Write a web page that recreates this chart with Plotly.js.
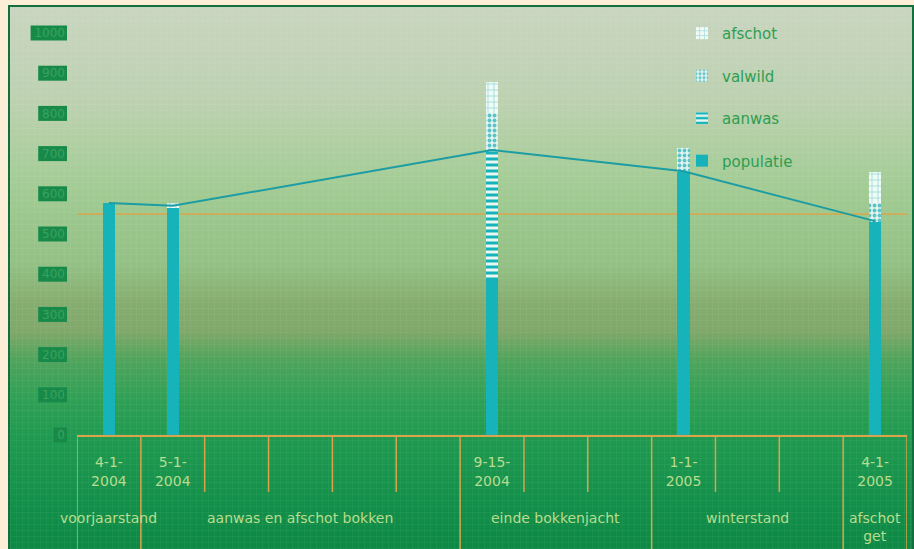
<!DOCTYPE html>
<html>
<head>
<meta charset="utf-8">
<script src="https://cdn.plot.ly/plotly-3.0.1.min.js"></script>
<style>
  html, body { margin: 0; padding: 0; background: #fdeed8; overflow: hidden; }
  #panel {
    position: absolute; left: 8px; top: 5px; width: 902px; height: 560px;
    border: 2px solid #11703e;
    background:
      repeating-linear-gradient(90deg, rgba(255,255,255,0.045) 0 1px, rgba(0,0,0,0) 1px 6px),
      repeating-linear-gradient(0deg, rgba(255,255,255,0.045) 0 1px, rgba(0,0,0,0) 1px 6px),
      linear-gradient(to bottom,
        #c9d5c0 0%, #bdd1b0 17%, #a6cd98 30%, #9cc88e 37%, #93c084 46%,
        #86ad70 53%, #7fa86a 58%, #50a45c 63%, #2fa055 70%, #1f9a50 77%,
        #13904a 88%, #0a8642 100%);
  }
  #chart { position: absolute; left: 0; top: 0; width: 914px; height: 549px; }
</style>
</head>
<body>
<div id="panel"></div>
<div id="chart"></div>
<script>
// Count dates and the month slot each one occupies on the time axis
const dates = ["4-1-2004", "5-1-2004", "9-15-2004", "1-1-2005", "4-1-2005"];
const dateSlot = [0, 1, 6, 9, 12];
const slotCount = 13;

// Period that starts at each count date
const periods = ["voorjaarstand", "aanwas en afschot bokken", "einde bokkenjacht", "winterstand", "afschot<br>get"];

// Stacked components
const populatie = [577, 565, 390, 654, 530];
const aanwas    = [0, 0, 319, 0, 0];
const valwild   = [0, 0, 92, 60, 47];
const afschot   = [0, 12, 78, 0, 77];

// Population level through the year
const stand = [577, 570, 709, 656, 532];

// Reference level
const target = 550;

// Value axis ticks
const yTicks = [0, 100, 200, 300, 400, 500, 600, 700, 800, 900, 1000];
const yRange = [0, 1000];

const FONT = "DejaVu Sans";
const TEAL = "#17b3bb";
const ORANGE = "#dba44a";
const LABEL = "#b8dd8e";

const plotW = 914 - 77 - 7;
const plotH = 549 - 33 - 114;

// tick labels per slot: a date where a count was made, blank otherwise
const slotText = [];
for (let s = 0; s < slotCount; s++) {
  const i = dateSlot.indexOf(s);
  slotText.push(i >= 0 ? dates[i].replace(/-(\d{4})$/, "-<br>$1") : "");
}
const slots = [];
for (let s = 0; s < slotCount; s++) slots.push(s);

function barTrace(name, values, marker, rank) {
  return {
    type: "bar", name: name, x: dateSlot, y: values,
    marker: marker, legendgroup: name, legendrank: rank, hoverinfo: "x+y+name"
  };
}

const traces = [
  barTrace("populatie", populatie, { color: TEAL, line: { width: 0 } }, 4),
  barTrace("aanwas", aanwas, {
    color: TEAL, line: { width: 0 },
    pattern: { shape: "-", bgcolor: TEAL, fgcolor: "#e8f7f0", size: 6, solidity: 0.5, fillmode: "replace" }
  }, 3),
  barTrace("valwild", valwild, {
    color: "#8fd6d6", line: { width: 0 },
    pattern: { shape: ".", bgcolor: "#e2f4ee", fgcolor: "#5cc3c8", size: 5, solidity: 0.45, fillmode: "replace" }
  }, 2),
  barTrace("afschot", afschot, {
    color: "#c8ecea", line: { width: 0 },
    pattern: { shape: "+", bgcolor: "#f1fbf6", fgcolor: "#a5dede", size: 6, solidity: 0.3, fillmode: "replace" }
  }, 1),
  {
    type: "scatter", mode: "lines", x: dateSlot, y: stand, showlegend: false,
    line: { color: "#1c9da3", width: 2 }, hoverinfo: "y"
  }
];

const shapes = [];

// dark plates behind the value labels
yTicks.forEach(v => {
  const w = String(v).length * 7.6 + 4;
  const yc = (v - yRange[0]) / (yRange[1] - yRange[0]);
  shapes.push({
    type: "rect", xref: "paper", yref: "paper", layer: "below",
    x0: -(12 + w) / plotW, x1: -10 / plotW,
    y0: yc - 7.5 / plotH, y1: yc + 7.5 / plotH,
    fillcolor: "#178a4a", line: { width: 0 }
  });
});

// reference level across the plot
shapes.push({
  type: "line", xref: "paper", yref: "y", x0: 0, x1: 1, y0: target, y1: target,
  line: { color: ORANGE, width: 1.5 }, layer: "below"
});

// slot boundary ticks below the axis; period boundaries run to the bottom
for (let b = 0; b <= slotCount; b++) {
  const isPeriodEdge = b === 0 || b === slotCount || dateSlot.indexOf(b) >= 0;
  shapes.push({
    type: "line", xref: "x", yref: "paper",
    x0: b - 0.5, x1: b - 0.5, y0: 0, y1: isPeriodEdge ? -114 / plotH : -57 / plotH,
    line: { color: ORANGE, width: 1.5 }
  });
}

// period names centred under their span of slots
const annotations = periods.map((p, i) => {
  const start = dateSlot[i];
  const end = i + 1 < dateSlot.length ? dateSlot[i + 1] - 1 : slotCount - 1;
  return {
    text: p, x: (start + end) / 2, xref: "x", y: -(508 - 435) / plotH, yref: "paper",
    xanchor: "center", yanchor: "top", showarrow: false,
    font: { family: FONT, size: 14, color: LABEL }
  };
});

const layout = {
  width: 914, height: 549,
  margin: { l: 77, r: 7, t: 33, b: 114, pad: 0 },
  paper_bgcolor: "rgba(0,0,0,0)", plot_bgcolor: "rgba(0,0,0,0)",
  barmode: "stack", bargap: 0.81,
  showlegend: true,
  legend: {
    x: (682 - 77) / plotW, xanchor: "left", y: 1.04, yanchor: "top",
    traceorder: "grouped", tracegroupgap: 20,
    bgcolor: "rgba(0,0,0,0)", borderwidth: 0,
    font: { family: FONT, size: 15, color: "#2e9e52" }
  },
  xaxis: {
    type: "linear", range: [-0.5, slotCount - 0.5],
    tickmode: "array", tickvals: slots, ticktext: slotText,
    ticks: "", showgrid: false, zeroline: false,
    showline: true, linecolor: ORANGE, linewidth: 1.5,
    ticklabelstandoff: 14,
    tickfont: { family: FONT, size: 14, color: LABEL }
  },
  yaxis: {
    range: yRange, tickmode: "array", tickvals: yTicks,
    ticks: "", showgrid: false, zeroline: false, showline: false,
    ticklabelstandoff: 11,
    tickfont: { family: FONT, size: 12, color: "#3aa35d" }
  },
  shapes: shapes,
  annotations: annotations
};

Plotly.newPlot("chart", traces, layout, { displayModeBar: false, staticPlot: true });
</script>
</body>
</html>
